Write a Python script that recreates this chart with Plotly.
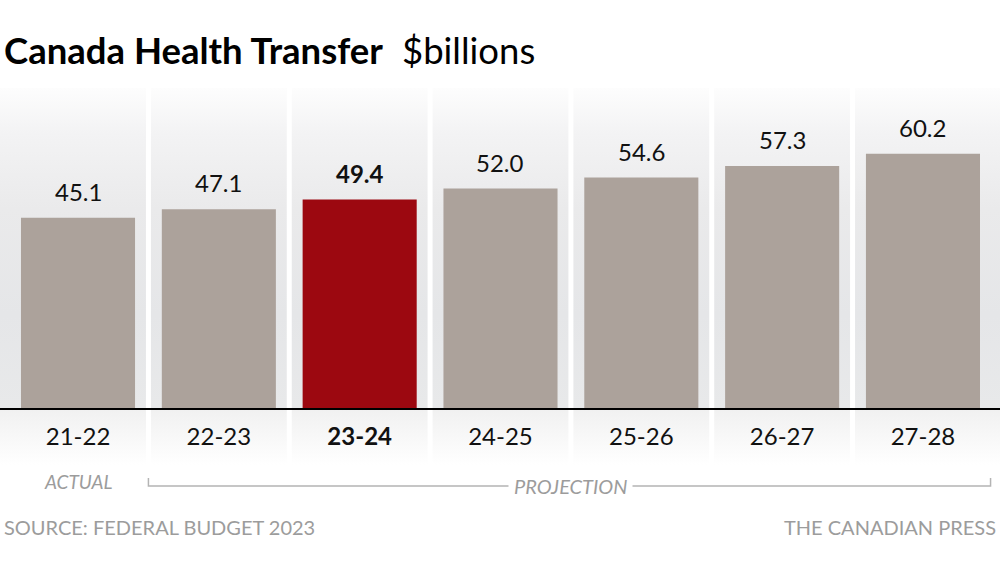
import base64
import plotly.graph_objects as go

# ---- data ----
categories = ["21-22", "22-23", "23-24", "24-25", "25-26", "26-27", "27-28"]
values = [45.1, 47.1, 49.4, 52.0, 54.6, 57.3, 60.2]
highlight = "23-24"
actual_label = "ACTUAL"
projection_label = "PROJECTION"
title_main = "Canada Health Transfer"
title_unit = "$billions"
source_text = "SOURCE: FEDERAL BUDGET 2023"
credit_text = "THE CANADIAN PRESS"

# ---- styles ----
FONT = "Lato"
BAR_GREY = "#aca29b"
BAR_RED = "#9c0810"
TEXT = "#111111"
NOTE_GREY = "#9c9c9c"

W, H = 1000, 562
M_T, M_B = 88, 97
PLOT_H = H - M_T - M_B
ZERO_PX = 409           # pixel row of the baseline
PX_PER_UNIT = 4.24
Y_LO = -(H - M_B - ZERO_PX) / PX_PER_UNIT
Y_HI = (ZERO_PX - M_T) / PX_PER_UNIT
X_LO, X_HI = -0.554, 6.547


def py_to_paper(py):
    return (H - M_B - py) / PLOT_H


# background gradient for the columns (svg data uri)
zero_off = (ZERO_PX - M_T) / PLOT_H
svg = f'''<svg xmlns="http://www.w3.org/2000/svg" width="1000" height="{PLOT_H}" viewBox="0 0 1000 {PLOT_H}" preserveAspectRatio="none">
<defs><linearGradient id="g" x1="0" y1="0" x2="0" y2="1">
<stop offset="0" stop-color="#fdfdfd"/>
<stop offset="0.12" stop-color="#f3f3f4"/>
<stop offset="0.32" stop-color="#eaeaeb"/>
<stop offset="0.6" stop-color="#e5e6e8"/>
<stop offset="{zero_off - 0.004:.4f}" stop-color="#e8e9ea"/>
<stop offset="{zero_off + 0.004:.4f}" stop-color="#f1f1f1"/>
<stop offset="1" stop-color="#ffffff"/>
</linearGradient></defs>
<rect x="0" y="0" width="1000" height="{PLOT_H}" fill="url(#g)"/></svg>'''
svg_uri = "data:image/svg+xml;base64," + base64.b64encode(svg.encode()).decode()

colors = [BAR_RED if c == highlight else BAR_GREY for c in categories]

fig = go.Figure()
fig.add_trace(go.Bar(
    x=categories, y=values, marker=dict(color=colors, line=dict(width=0)),
    width=0.81, hoverinfo="skip",
))

annotations = []
for c, v in zip(categories, values):
    txt = f"{v:.1f}"
    if c == highlight:
        txt = f"<b>{txt}</b>"
    annotations.append(dict(
        x=c, y=v, xref="x", yref="y", text=txt, showarrow=False,
        yanchor="bottom", yshift=10, font=dict(family=FONT, size=24, color=TEXT),
    ))

# title
annotations.append(dict(x=0.002, y=py_to_paper(50), xref="paper", yref="paper",
                        xanchor="left", yanchor="middle", showarrow=False,
                        text=f"<b>{title_main}</b>",
                        font=dict(family=FONT, size=36.5, color="#000")))
annotations.append(dict(x=0.400, y=py_to_paper(50), xref="paper", yref="paper",
                        xanchor="left", yanchor="middle", showarrow=False,
                        text=title_unit,
                        font=dict(family=FONT, size=36.5, color="#000")))

# actual / projection labels
annotations.append(dict(x=categories[0], y=py_to_paper(481), xref="x", yref="paper",
                        yanchor="middle", showarrow=False, text=f"<i>{actual_label}</i>",
                        font=dict(family=FONT, size=19, color=NOTE_GREY)))
mid_proj = (1 + len(categories) - 1) / 2
annotations.append(dict(x=mid_proj, y=py_to_paper(486), xref="x", yref="paper",
                        yanchor="middle", showarrow=False, text=f"<i>{projection_label}</i>",
                        bgcolor="#ffffff", borderpad=5,
                        font=dict(family=FONT, size=20, color=NOTE_GREY)))

# footer
annotations.append(dict(x=0.002, y=py_to_paper(527), xref="paper", yref="paper",
                        xanchor="left", yanchor="middle", showarrow=False,
                        text=source_text, font=dict(family=FONT, size=20, color=NOTE_GREY)))
annotations.append(dict(x=0.998, y=py_to_paper(527), xref="paper", yref="paper",
                        xanchor="right", yanchor="middle", showarrow=False,
                        text=credit_text, font=dict(family=FONT, size=20, color=NOTE_GREY)))

shapes = []
# white gaps between columns
for i in range(len(categories) - 1):
    shapes.append(dict(type="line", xref="x", yref="paper", x0=i + 0.5, x1=i + 0.5,
                       y0=0, y1=1, line=dict(color="#ffffff", width=5), layer="below"))
# baseline
shapes.append(dict(type="line", xref="paper", yref="y", x0=0, x1=1, y0=0, y1=0,
                   line=dict(color="#000000", width=2), layer="above"))
# projection bracket
b0, b1 = 0.5, len(categories) - 0.52
yb, yt = py_to_paper(486), py_to_paper(478)
shapes.append(dict(type="path", xref="x", yref="paper",
                   path=f"M {b0},{yt} L {b0},{yb} L {b1},{yb} L {b1},{yt}",
                   line=dict(color="#b4b4b4", width=1.5), layer="below"))

fig.update_layout(
    width=W, height=H,
    margin=dict(l=0, r=0, t=M_T, b=M_B, pad=0),
    paper_bgcolor="#ffffff", plot_bgcolor="rgba(0,0,0,0)",
    showlegend=False, bargap=0.19,
    annotations=annotations, shapes=shapes,
    images=[dict(source=svg_uri, xref="paper", yref="paper", x=0, y=1,
                 sizex=1, sizey=1, sizing="stretch", xanchor="left", yanchor="top",
                 layer="below")],
    xaxis=dict(
        type="category", range=[X_LO, X_HI], anchor="free",
        position=py_to_paper(ZERO_PX), showgrid=False, zeroline=False,
        showline=False, ticks="", ticklabelstandoff=11,
        tickvals=categories,
        ticktext=[f"<b>{c}</b>" if c == highlight else c for c in categories],
        tickfont=dict(family=FONT, size=24, color=TEXT), fixedrange=True,
    ),
    yaxis=dict(range=[Y_LO, Y_HI], showgrid=False, zeroline=False, showline=False,
               showticklabels=False, ticks="", fixedrange=True),
)

fig.write_html(
    "out.html",
    config={"displayModeBar": False},
    post_script="document.body.style.margin='0';document.body.style.padding='0';",
)
